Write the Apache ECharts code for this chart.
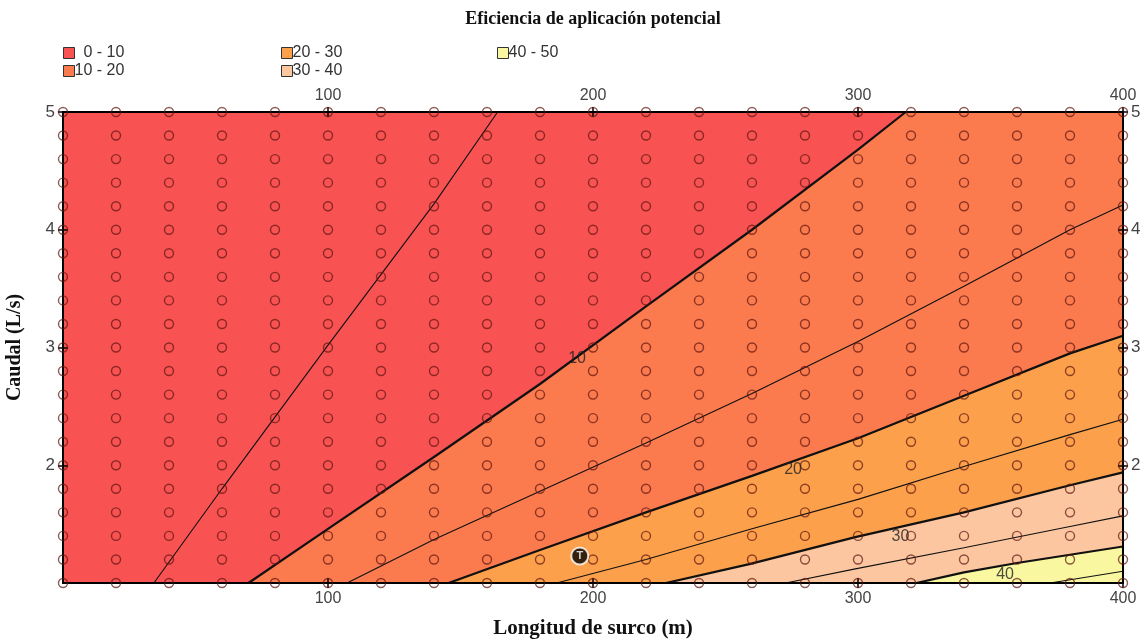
<!DOCTYPE html>
<html><head><meta charset="utf-8">
<script src="https://cdn.jsdelivr.net/npm/echarts@6/dist/echarts.min.js"></script>
<style>html,body{margin:0;padding:0;background:#fff;}#c{width:1146px;height:640px;}</style>
</head><body><div id="c"></div>
<script>
// ---- data ----
const bandNames = ['0 - 10', '10 - 20', '20 - 30', '30 - 40', '40 - 50'];
const bandColors = ['#f85252', '#fb7a4e', '#fca04c', '#fcc6a0', '#f9f7a0'];
const xTickLabels = ['100', '200', '300', '400'];
const yTickLabels = ['2', '3', '4', '5'];
// sample grid (Longitud de surco, Caudal)
const gridX = [0,20,40,60,80,100,120,140,160,180,200,220,240,260,280,300,320,340,360,380,400];
const gridY = [1,1.2,1.4,1.6,1.8,2,2.2,2.4,2.6,2.8,3,3.2,3.4,3.6,3.8,4,4.2,4.4,4.6,4.8,5];
// contour lines [longitud, caudal]
const c5  = [[34.3,1],[60,1.8],[100,3.02],[140,4.22],[164,5]];
const c10 = [[70,1],[100,1.46],[140,2.07],[180,2.69],[220,3.35],[260,4.0],[300,4.68],[318,5]];
const c15 = [[107.2,1],[140,1.37],[180,1.78],[220,2.19],[260,2.61],[300,3.05],[340,3.52],[380,4.0],[400,4.21]];
const c20 = [[145.5,1],[180,1.28],[220,1.6],[260,1.91],[300,2.23],[340,2.59],[380,2.95],[400,3.1]];
const c25 = [[186.3,1],[220,1.2],[260,1.46],[300,1.71],[340,1.99],[380,2.26],[400,2.39]];
const c30 = [[227.5,1],[259,1.16],[299,1.39],[340,1.6],[380,1.83],[400,1.94]];
const c35 = [[272.7,1],[299,1.12],[340,1.3],[380,1.48],[400,1.57]];
const c40 = [[322,1],[340,1.09],[360,1.17],[380,1.24],[400,1.31]];
const c45 = [[372.5,1],[400,1.1]];
const contourLabels = [[194,2.91,'10'],[275.5,1.96,'20'],[316,1.39,'30'],[355.5,1.07,'40']];
const markerT = [[195,1.23]];
const titleText = 'Eficiencia de aplicación potencial';

const X_MIN = 0, X_MAX = 400, Y_MIN = 1, Y_MAX = 5;
const bandLower = [null, c10, c20, c30, c40];

// ---- build ----
const chart = echarts.init(document.getElementById('c'), null, {renderer: 'canvas'});

function bandSeries(i) {
  return {
    type: 'custom', name: bandNames[i], z: 1 + i, silent: true,
    itemStyle: {color: bandColors[i]},
    data: [[0, 0]],
    renderItem: function (params, api) {
      let pts;
      const line = bandLower[i];
      if (!line) {
        pts = [[X_MIN, Y_MIN], [X_MIN, Y_MAX], [X_MAX, Y_MAX], [X_MAX, Y_MIN]];
      } else {
        pts = line.slice();
        const last = line[line.length - 1];
        if (last[1] >= Y_MAX) pts.push([X_MAX, Y_MAX]);
        pts.push([X_MAX, Y_MIN]);
      }
      return {type: 'polygon', shape: {points: pts.map(p => api.coord(p)), smooth: 0},
              style: {fill: bandColors[i]}};
    }
  };
}

function lineSeries(data, thick) {
  return {type: 'line', data: data, showSymbol: false, silent: true, z: 10,
          lineStyle: {color: '#111', width: thick ? 2.2 : 1.1}, itemStyle:{color:'#111'}};
}

const gridPts = [];
gridX.forEach(x => gridY.forEach(y => gridPts.push([x, y])));

const ff = '"Liberation Sans", Arial, sans-serif';
const serif = '"Liberation Serif", "Times New Roman", serif';

function makeX(pos, inside, show) {
  return {type: 'value', min: X_MIN, max: X_MAX, interval: 100, position: pos, z: 15,
    axisLine: {show: true, onZero: false, lineStyle: {color: '#000', width: 2}},
    axisTick: {show: true, inside: inside, length: 5, lineStyle: {color: '#000', width: 1.5}},
    splitLine: {show: false},
    axisLabel: {show: show, showMinLabel: false, color: '#444', fontFamily: ff, fontSize: 16, margin: 8,
      formatter: v => { const k = Math.round(v / 100) - 1; return k >= 0 ? xTickLabels[k] : ''; }}
  };
}
function makeY(pos, inside, show) {
  return {type: 'value', min: Y_MIN, max: Y_MAX, interval: 1, position: pos, z: 15,
    axisLine: {show: true, onZero: false, lineStyle: {color: '#000', width: 2}},
    axisTick: {show: true, inside: inside, length: 5, lineStyle: {color: '#000', width: 1.5}},
    splitLine: {show: false},
    axisLabel: {show: show, showMinLabel: false, color: '#444', fontFamily: ff, fontSize: 17, margin: 8,
      formatter: v => { const k = Math.round(v) - 2; return k >= 0 ? yTickLabels[k] : ''; }}
  };
}

const xb = makeX('bottom', false, true);
xb.name = 'Longitud de surco (m)'; xb.nameLocation = 'middle'; xb.nameGap = 35;
xb.nameTextStyle = {fontFamily: serif, fontWeight: 'bold', fontSize: 21, color: '#111'};
const yl = makeY('left', false, true);
yl.name = 'Caudal (L/s)'; yl.nameLocation = 'middle'; yl.nameGap = 38;
yl.nameTextStyle = {fontFamily: serif, fontWeight: 'bold', fontSize: 20, color: '#111'};

const legendBase = {orient: 'vertical', itemWidth: 11, itemHeight: 11, itemGap: 2, icon: 'rect',
  textStyle: {fontFamily: ff, fontSize: 16, color: '#333', padding: [0,0,0,-5]},
  itemStyle: {borderColor: '#333', borderWidth: 1}, selectedMode: false, padding: 0,
  formatter: n => (n === '0 - 10' ? '\u2007' + n : n)};

const series = [];
for (let i = 0; i < 5; i++) series.push(bandSeries(i));
series.push(lineSeries(c5, false), lineSeries(c10, true), lineSeries(c15, false),
            lineSeries(c20, true), lineSeries(c25, false), lineSeries(c30, true),
            lineSeries(c35, false), lineSeries(c40, true), lineSeries(c45, false));
series.push({type: 'scatter', data: gridPts, symbol: 'circle', symbolSize: 9, silent: true, z: 20,
  itemStyle: {color: 'rgba(0,0,0,0)', borderColor: 'rgba(95,22,16,0.88)', borderWidth: 1.4}});
series.push({type: 'scatter', data: contourLabels.map(d => ({value: [d[0], d[1]], name: d[2]})),
  symbolSize: 0, silent: true, z: 30,
  label: {show: true, position: 'inside', formatter: p => p.name, fontFamily: ff, fontSize: 16, color: '#222'}});
series.push({type: 'scatter', data: markerT, symbol: 'circle', symbolSize: 17, silent: true, z: 40,
  itemStyle: {color: '#000', borderColor: '#fff', borderWidth: 2},
  label: {show: true, position: 'inside', formatter: 'T', color: '#fff', fontWeight: 'bold', fontSize: 11, fontFamily: ff}});

chart.setOption({
  animation: false,
  backgroundColor: '#fff',
  graphic: [{type: 'text', x: 593, y: 19, silent: true,
    style: {text: titleText, textAlign: 'center', textVerticalAlign: 'middle',
      font: 'bold 18px ' + serif, fill: '#111'}}],
  legend: [
    Object.assign({}, legendBase, {left: 63, top: 45, data: bandNames.slice(0, 2)}),
    Object.assign({}, legendBase, {left: 281, top: 45, data: bandNames.slice(2, 4)}),
    Object.assign({}, legendBase, {left: 497, top: 45, data: bandNames.slice(4, 5)})
  ],
  grid: {left: 63, right: 23, top: 112, bottom: 57, containLabel: false, outerBoundsMode: 'none'},
  xAxis: [xb, makeX('top', false, true), makeX('bottom', true, false), makeX('top', true, false)],
  yAxis: [yl, makeY('right', false, true), makeY('left', true, false), makeY('right', true, false)],
  series: series
});
</script></body></html>
